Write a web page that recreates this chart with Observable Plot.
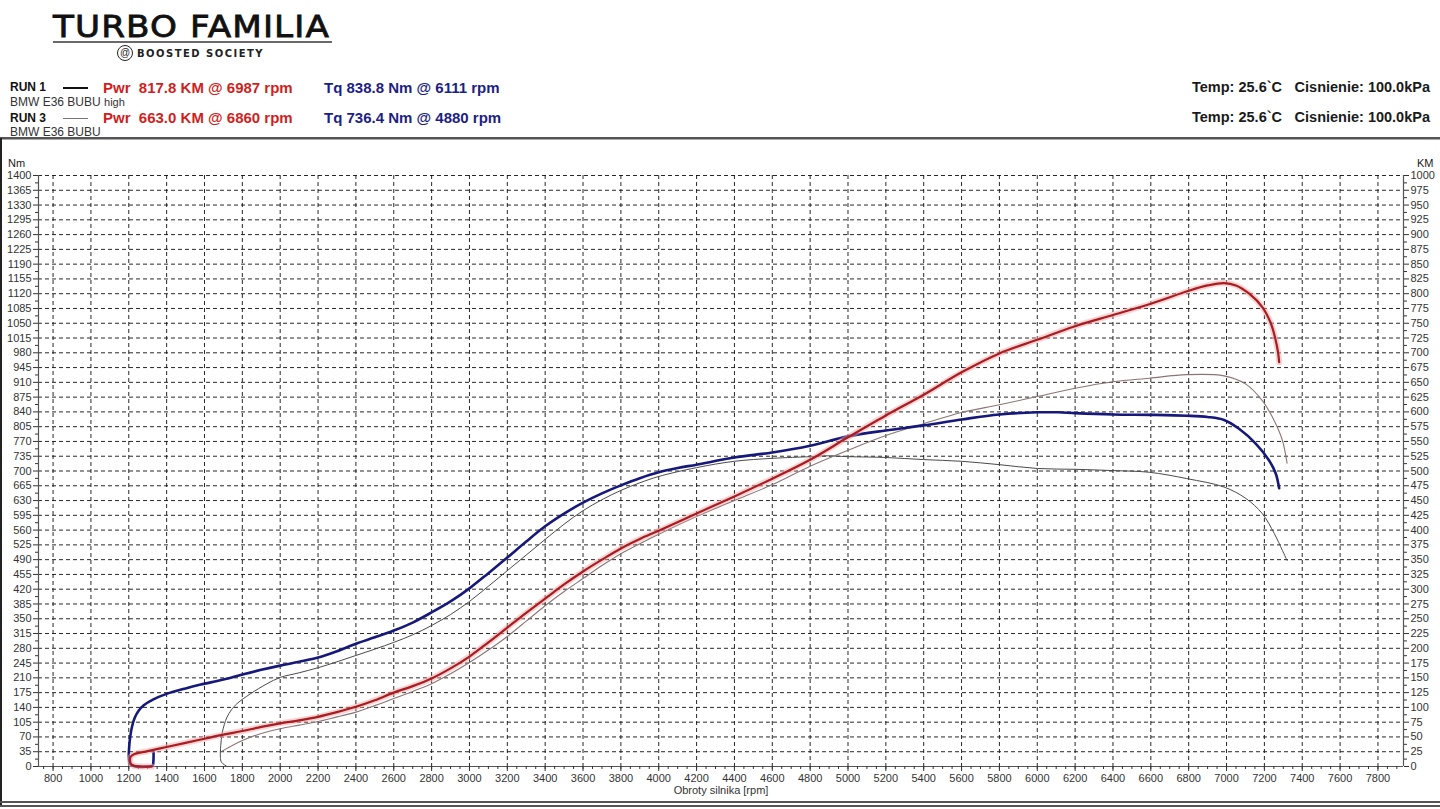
<!DOCTYPE html>
<html>
<head>
<meta charset="utf-8">
<script src="https://cdn.jsdelivr.net/npm/d3@7"></script>
<script src="https://cdn.jsdelivr.net/npm/@observablehq/plot@0.6"></script>
<style>
  html, body { margin: 0; padding: 0; background: #fff; }
  body { width: 1440px; height: 809px; position: relative; overflow: hidden; font-family: "Liberation Sans", Arial, sans-serif; }
  .abs { position: absolute; white-space: nowrap; }
  #logo { left: 53px; top: 8px; font-family: "DejaVu Sans", sans-serif; font-size: 31px; font-weight: normal; letter-spacing: 1px; color: #111; transform-origin: 0 0; -webkit-text-stroke: 0.8px #111; }
  #boosted { left: 137px; top: 48px; font-size: 10px; letter-spacing: 1.5px; color: #222; font-family: "DejaVu Sans", sans-serif; font-weight: bold; transform-origin: 0 0; }
  .run { font-size: 12px; font-weight: bold; color: #111; }
  .car { font-size: 12px; color: #333; }
  .pwr { font-size: 15px; font-weight: bold; color: #cf1f24; }
  .tq { font-size: 15px; font-weight: bold; color: #1c1f86; }
  .env { font-size: 14.5px; font-weight: bold; color: #1a1a1a; }
  .unit { font-size: 11px; color: #222; }
  #chart { position: absolute; left: 0; top: 140px; }
</style>
</head>
<body>
<div id="logo" class="abs">TURBO FAMILIA</div>
<div class="abs" style="left:53px;top:41px;width:279px;height:2px;background:#6a6a6a;"></div>
<div class="abs" style="left:117px;top:45px;width:14px;height:14px;border:1.6px solid #222;border-radius:50%;font-size:10px;line-height:14px;text-align:center;color:#222;">@</div>
<div id="boosted" class="abs">BOOSTED SOCIETY</div>

<div class="abs run" style="left:10px;top:80px;">RUN 1</div>
<div class="abs" style="left:63px;top:87px;width:25px;height:2px;background:#111;"></div>
<div class="abs pwr" style="left:103px;top:79px;">Pwr&nbsp; 817.8 KM @ 6987 rpm</div>
<div class="abs tq" style="left:324px;top:79px;">Tq 838.8 Nm @ 6111 rpm</div>
<div class="abs car" style="left:10px;top:95px;">BMW E36 BUBU <span style="font-size:11px">high</span></div>

<div class="abs run" style="left:10px;top:111px;">RUN 3</div>
<div class="abs" style="left:63px;top:118px;width:25px;height:1px;background:#777;"></div>
<div class="abs pwr" style="left:103px;top:109px;">Pwr&nbsp; 663.0 KM @ 6860 rpm</div>
<div class="abs tq" style="left:324px;top:109px;">Tq 736.4 Nm @ 4880 rpm</div>
<div class="abs car" style="left:10px;top:125px;">BMW E36 BUBU</div>

<div class="abs env" style="right:158px;top:79px;">Temp: 25.6`C</div>
<div class="abs env" style="right:10px;top:79px;">Cisnienie: 100.0kPa</div>
<div class="abs env" style="right:158px;top:109px;">Temp: 25.6`C</div>
<div class="abs env" style="right:10px;top:109px;">Cisnienie: 100.0kPa</div>

<div class="abs" style="left:0;top:137px;width:1440px;height:2px;background:#555;"></div>
<div class="abs" style="left:0;top:139px;width:1440px;height:1px;background:#aaa;"></div>
<div class="abs" style="left:0;top:138px;width:2px;height:668px;background:#222;"></div>

<div id="chart"></div>

<div class="abs unit" style="left:8px;top:157px;">Nm</div>
<div class="abs unit" style="left:1417px;top:157px;">KM</div>

<div class="abs" style="left:0;top:801px;width:1440px;height:2px;background:#555;"></div>
<div class="abs" style="left:0;top:805px;width:1440px;height:2px;background:#555;"></div>

<script>
// ---- tick values ----
const rpmTicks = d3.range(800, 7801, 200);
const rpmMinor = d3.range(750, 7901, 50);
const nmTicks = d3.range(0, 1401, 35);
const nmMinor = d3.range(17.5, 1400, 35);
const kmTicks = d3.range(0, 1001, 25);
const kmMinor = d3.range(12.5, 1000, 25);

// ---- RUN 1 power [rpm, KM] ----
const run1Power = [
  [1322,0],[1270,0],[1228,1],[1210,5],[1207,10],[1209,16],[1230,21],[1300,26],[1400,33],[1500,40],[1600,47],[1700,54],
  [1800,60],[1900,67],[2000,73],[2100,78],[2200,84],[2300,92],[2400,101],[2500,112],[2600,125],
  [2700,136],[2800,149],[2900,166],[3000,186],[3100,210],[3200,235],[3300,260],[3400,284],
  [3500,308],[3600,330],[3700,350],[3800,369],[3900,385],[4000,399],[4200,428],[4400,457],
  [4600,487],[4800,519],[5000,557],[5200,594],[5400,629],[5600,667],[5800,699],[6000,722],
  [6200,745],[6400,764],[6600,783],[6800,805],[6900,814],[6987,818],[7050,814],[7120,800],
  [7190,777],[7234,750],[7260,721],[7273,699],[7278,684]
];
// ---- RUN 1 torque [rpm, Nm] ----
const run1Torque = [
  [1331,34],[1330,12],[1326,2],[1310,0],[1240,0],[1212,4],[1203,12],[1200,24],[1202,46],[1208,72],
  [1218,96],[1232,116],[1252,132],[1279,145],[1330,159],[1400,172],[1500,185],[1580,194],
  [1700,206],[1800,218],[1900,229],
  [2000,239],[2100,248],[2200,258],[2300,273],[2400,291],[2500,306],[2600,322],[2700,341],
  [2800,365],[2900,391],[3000,422],[3100,458],[3200,495],[3300,533],[3400,569],[3500,599],
  [3600,625],[3700,647],[3800,666],[3900,683],[4000,697],[4100,707],[4200,715],[4400,732],
  [4600,744],[4800,760],[5000,782],[5200,796],[5400,808],[5600,822],[5800,834],[6000,839],
  [6111,839],[6200,837],[6400,834],[6600,833],[6790,831],[6900,828],[6987,821],[7066,800],
  [7154,765],[7225,725],[7260,694],[7278,659]
];
// ---- RUN 3 power [rpm, KM] ----
const run3Power = [
  [1693,26],[1800,44],[1900,56],[2000,64],[2100,70],[2200,76],[2300,84],[2400,92],[2500,103],
  [2600,115],[2700,127],[2800,140],[2900,157],[3000,176],[3100,197],[3200,220],[3300,246],
  [3400,272],[3500,296],[3600,318],[3700,340],[3800,360],[3900,377],[4000,393],[4200,423],
  [4400,450],[4600,477],[4800,508],[5000,535],[5200,560],[5400,580],[5600,599],[5800,612],
  [6000,626],[6200,640],[6400,651],[6592,657],[6790,663],[6987,661],[7102,647],[7189,619],
  [7252,585],[7295,552],[7320,513]
];
// ---- RUN 3 torque [rpm, Nm] ----
const run3Torque = [
  [1719,0],[1690,10],[1684,22],[1686,50],[1693,78],[1705,100],[1719,117],[1742,134],[1772,149],
  [1842,172],[1930,196],[2000,211],[2100,222],[2200,234],[2300,248],[2400,263],[2500,278],
  [2600,294],[2700,312],[2800,334],[2900,360],[3000,391],[3100,427],[3200,464],[3300,501],
  [3400,538],[3500,574],[3600,606],[3700,632],[3800,654],[3900,672],[4000,687],[4200,708],
  [4400,723],[4600,730],[4800,734],[4880,736],[5000,734],[5200,732],[5400,727],[5600,723],
  [5800,715],[6000,706],[6200,704],[6400,701],[6592,697],[6790,682],[6987,662],[7102,635],
  [7189,599],[7252,552],[7295,512],[7320,488]
];

const KM_TO_NM = 1400 / 1000; // right axis KM 0..1000 shares the left Nm 0..1400 range

const plot = Plot.plot({
  width: 1440,
  height: 660,
  marginLeft: 38,
  marginRight: 37,
  marginTop: 35,
  marginBottom: 34,
  style: { fontFamily: "'Liberation Sans', Arial, sans-serif", fontSize: "11px", color: "#333", background: "transparent", overflow: "visible" },
  x: { domain: [723, 7935] },
  y: { domain: [0, 1400] },
  marks: [
    // grid
    Plot.ruleY(nmTicks.filter(d => d > 0), { stroke: "#111", strokeDasharray: "4,3", strokeWidth: 1, strokeOpacity: 0.9 }),
    Plot.ruleX(rpmTicks, { stroke: "#111", strokeDasharray: "4,3", strokeWidth: 1, strokeOpacity: 0.9 }),
    // axes frames
    Plot.ruleX([723], { stroke: "#555", strokeWidth: 1.2 }),
    Plot.ruleX([7935], { stroke: "#555", strokeWidth: 1.2 }),
    Plot.ruleY([0], { stroke: "#555", strokeWidth: 1.2 }),
    Plot.axisY(nmTicks, { anchor: "left", tickSize: 5, tickPadding: 2, tickFormat: d => String(d), label: null }),
    Plot.axisY(nmMinor, { anchor: "left", tickSize: 3, tickFormat: () => "", label: null }),
    Plot.axisY(kmTicks.map(k => k * KM_TO_NM), { anchor: "right", tickSize: 5, tickPadding: 2, tickFormat: v => String(Math.round(v / KM_TO_NM)), label: null }),
    Plot.axisY(kmMinor.map(k => k * KM_TO_NM), { anchor: "right", tickSize: 3, tickFormat: () => "", label: null }),
    Plot.axisX(rpmTicks, { anchor: "bottom", tickSize: 5, tickPadding: 3, tickFormat: d => String(d), label: "Obroty silnika [rpm]", labelAnchor: "center", labelArrow: "none", labelOffset: 27 }),
    Plot.axisX(rpmMinor, { anchor: "bottom", tickSize: 3, tickFormat: () => "", label: null }),
    // RUN 3 (thin)
    Plot.line(run3Torque, { x: d => d[0], y: d => d[1], stroke: "#4a4a4a", strokeWidth: 1, curve: "catmull-rom" }),
    Plot.line(run3Power, { x: d => d[0], y: d => d[1] * KM_TO_NM, stroke: "#8b7575", strokeWidth: 1.1, curve: "catmull-rom" }),
    // RUN 1 (thick)
    Plot.line(run1Torque, { x: d => d[0], y: d => d[1], stroke: "#16197a", strokeWidth: 2.6, curve: "catmull-rom" }),
    Plot.line(run1Power, { x: d => d[0], y: d => d[1] * KM_TO_NM, stroke: "#f4a6a6", strokeWidth: 6, strokeOpacity: 0.5, curve: "catmull-rom" }),
    Plot.line(run1Power, { x: d => d[0], y: d => d[1] * KM_TO_NM, stroke: "#a81c22", strokeWidth: 2.2, curve: "catmull-rom" })
  ]
});
document.getElementById("chart").appendChild(plot);

// fit logo widths to reference
const fit = (id, target) => {
  const el = document.getElementById(id);
  const w = el.getBoundingClientRect().width;
  el.style.transform = `scaleX(${target / w})`;
};
fit("logo", 277);
fit("boosted", 127);
</script>
</body>
</html>
